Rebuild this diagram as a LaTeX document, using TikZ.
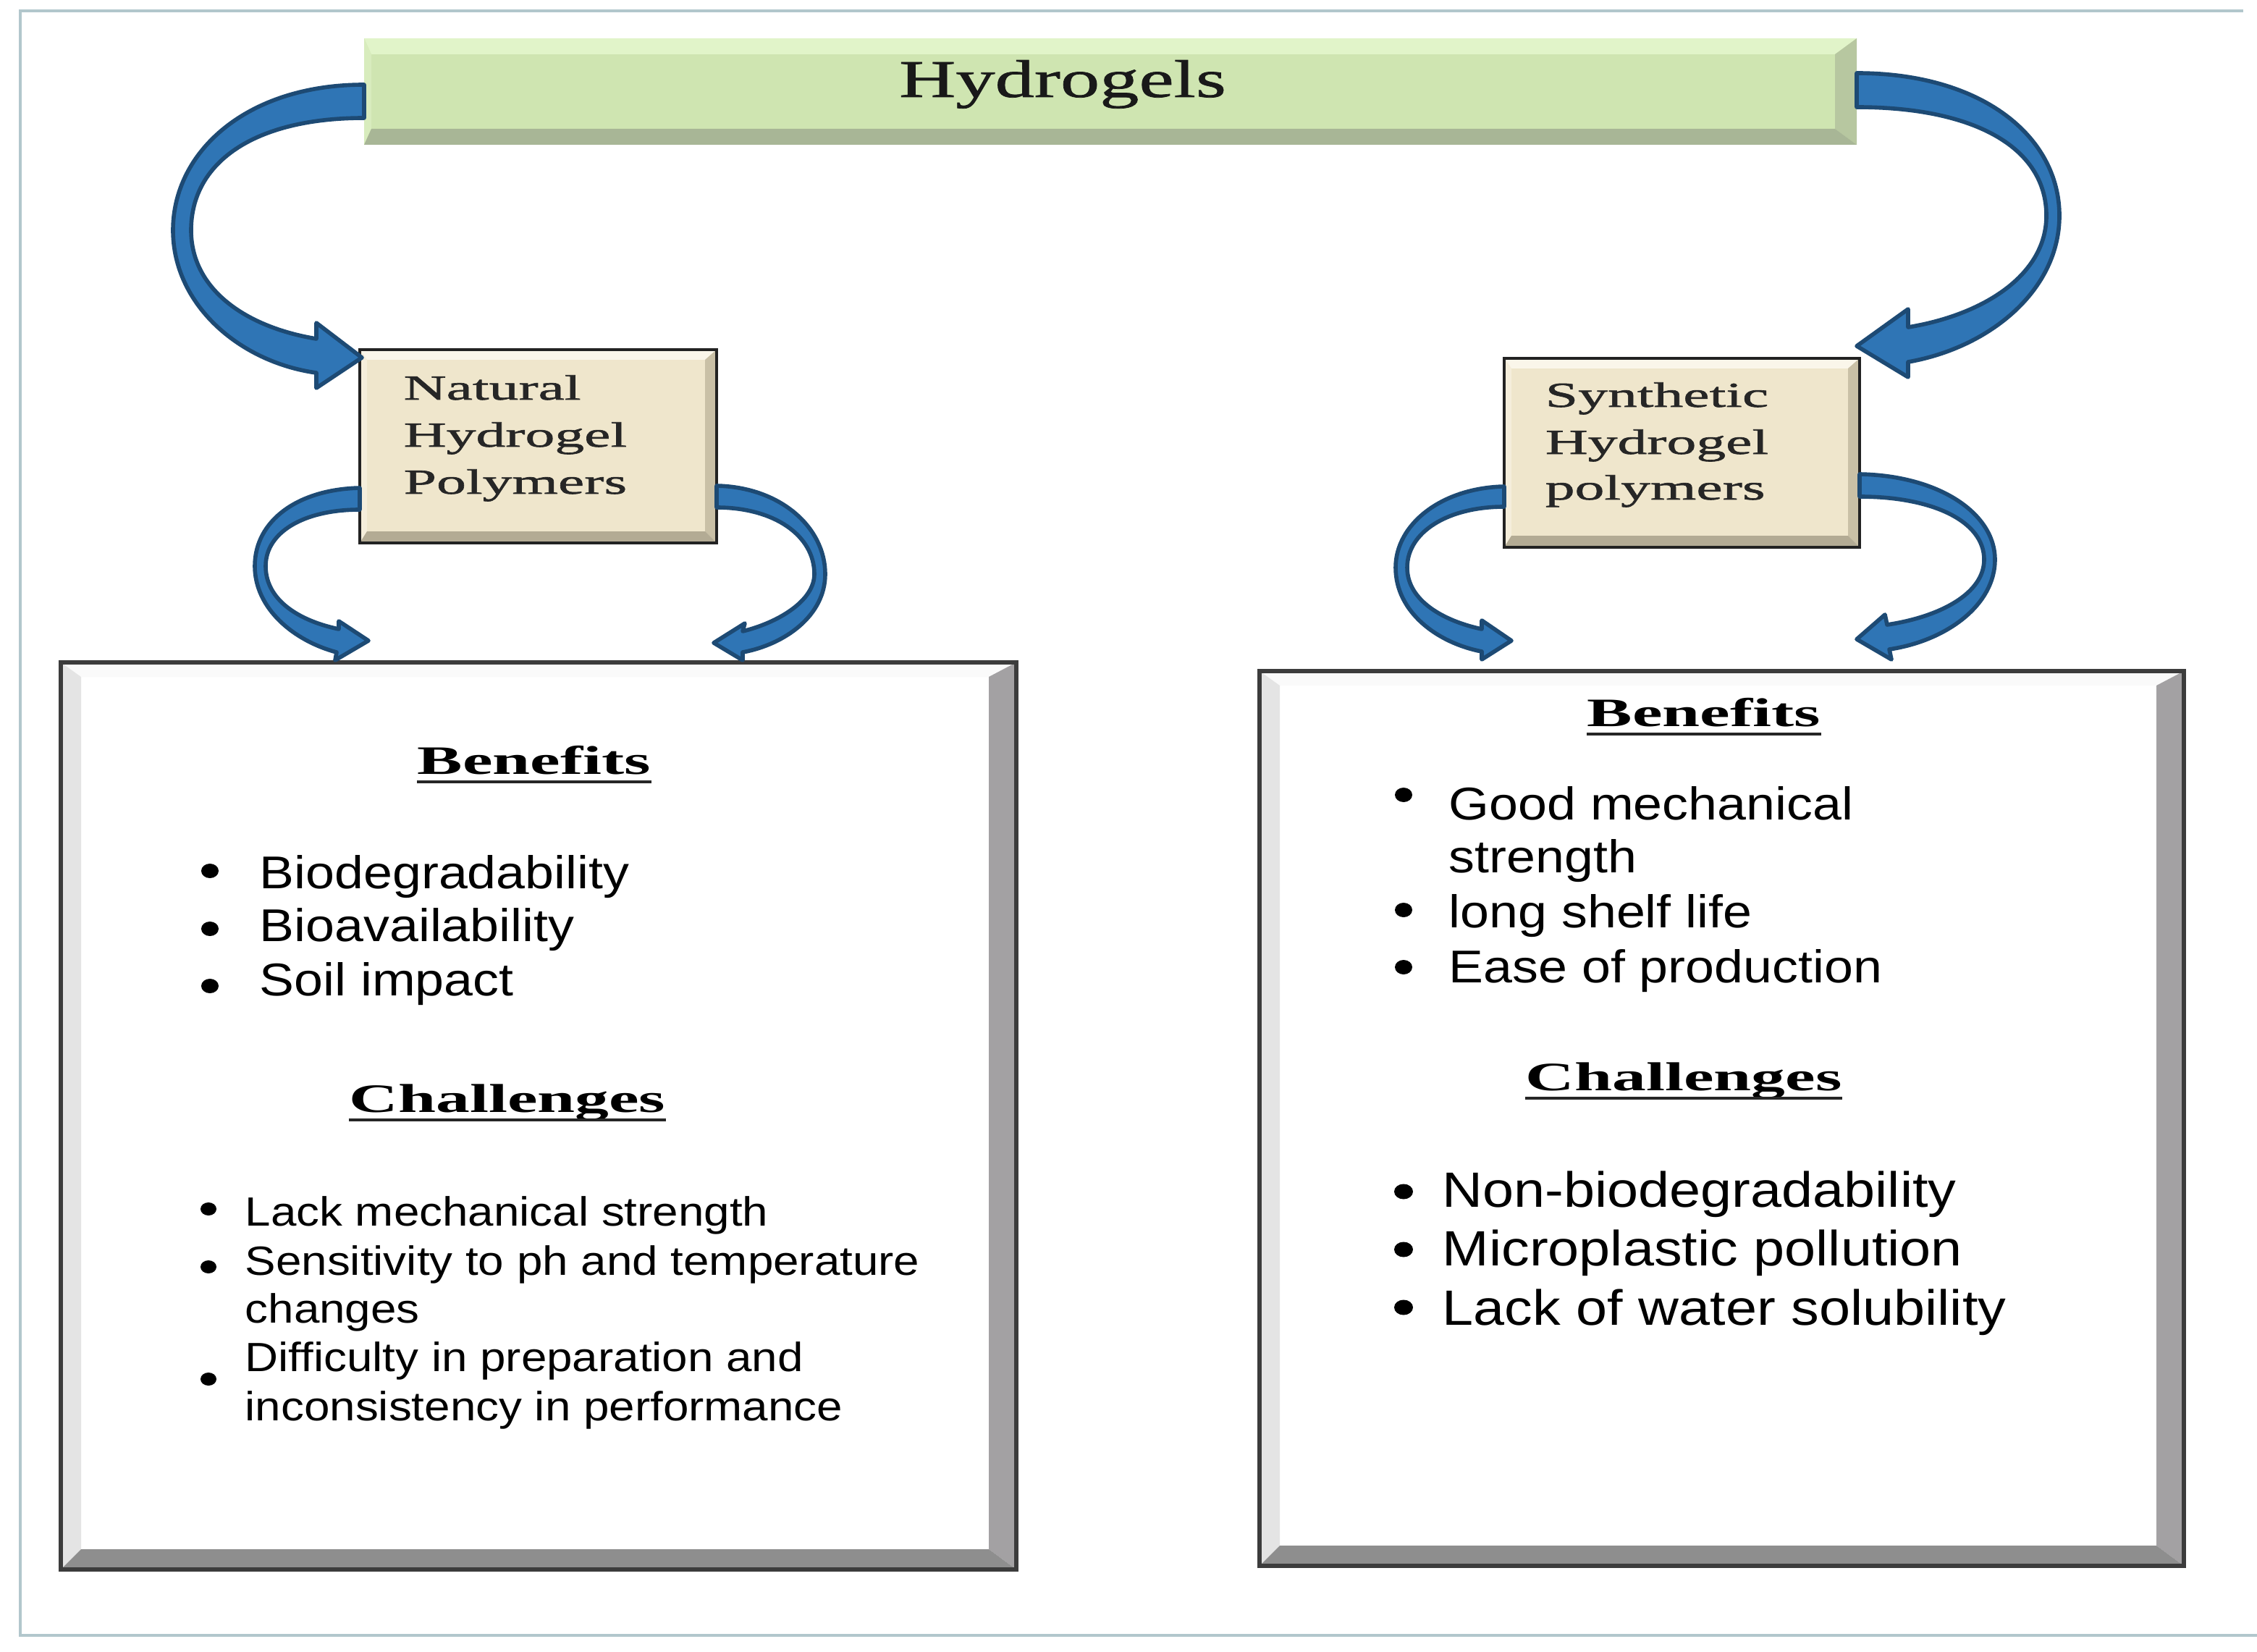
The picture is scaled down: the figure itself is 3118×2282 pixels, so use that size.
\documentclass[tikz,border=0pt]{standalone}
\usepackage{fontspec}
\setmainfont{Liberation Serif}
\newfontfamily\ttlfont[FakeStretch=1.48, FakeBold=1.0]{Liberation Serif}
\newfontfamily\lblfont[FakeStretch=1.68, FakeBold=1.3]{Liberation Serif}
\newfontfamily\hdgfont[FakeStretch=1.68]{Liberation Serif}
\newfontfamily\lstfont[FakeStretch=1.13]{Liberation Sans}
\usetikzlibrary{fit,calc}
\definecolor{frameline}{HTML}{B2C7CC}
\definecolor{gmain}{HTML}{CFE5B1}
\definecolor{gtop}{HTML}{E1F4C9}
\definecolor{gleft}{HTML}{D8ECBD}
\definecolor{gright}{HTML}{B7C7A0}
\definecolor{gbot}{HTML}{A8B696}
\definecolor{bmain}{HTML}{EFE6CC}
\definecolor{btop}{HTML}{FAF6EA}
\definecolor{bleft}{HTML}{F5EEDB}
\definecolor{bright}{HTML}{C9C0A6}
\definecolor{bbot}{HTML}{B3AB94}
\definecolor{wtop}{HTML}{FAFAFA}
\definecolor{wleft}{HTML}{E4E4E4}
\definecolor{wright}{HTML}{A3A1A3}
\definecolor{wbot}{HTML}{8E8E8E}
\definecolor{boxline}{HTML}{222222}
\definecolor{bigline}{HTML}{3C3C3C}
\definecolor{arrfill}{HTML}{2F75B5}
\definecolor{arrline}{HTML}{1D4A74}
\newcommand\bevelbox[8]{%
  \fill[bvmain] (#1,#2) rectangle (#3,#4);
  \fill[bvtop] (#1,#2) -- (#3,#2) -- ({#3-#7},{#2+#5}) -- ({#1+#6},{#2+#5}) -- cycle;
  \fill[bvleft] (#1,#2) -- ({#1+#6},{#2+#5}) -- ({#1+#6},{#4-#8}) -- (#1,#4) -- cycle;
  \fill[bvright] (#3,#2) -- ({#3-#7},{#2+#5}) -- ({#3-#7},{#4-#8}) -- (#3,#4) -- cycle;
  \fill[bvbottom] (#1,#4) -- ({#1+#6},{#4-#8}) -- ({#3-#7},{#4-#8}) -- (#3,#4) -- cycle;
}
\begin{document}
\begin{tikzpicture}[x=0.1mm, y=-0.1mm,
  greenbev/.style={bvmain/.style={fill=gmain}, bvtop/.style={fill=gtop}, bvleft/.style={fill=gleft}, bvright/.style={fill=gright}, bvbottom/.style={fill=gbot}},
  beigebev/.style={bvmain/.style={fill=bmain}, bvtop/.style={fill=btop}, bvleft/.style={fill=bleft}, bvright/.style={fill=bright}, bvbottom/.style={fill=bbot}},
  whitebev/.style={bvmain/.style={fill=white}, bvtop/.style={fill=wtop}, bvleft/.style={fill=wleft}, bvright/.style={fill=wright}, bvbottom/.style={fill=wbot}},
  boxfit/.style={inner sep=0, outer sep=0},
  ttl/.style={font=\ttlfont\fontsize{20.86}{24}\selectfont, inner sep=0, anchor=base, text=black!90},
  lbl/.style={font=\lblfont\fontsize{13.83}{16}\selectfont, inner sep=0, anchor=base west, text=black!85},
  hdg/.style={font=\hdgfont\bfseries\fontsize{15.85}{18}\selectfont, inner sep=0, anchor=base},
  uline/.style={line width=1.28pt, black!85},
  lstA/.style={font=\lstfont\fontsize{18.07}{21}\selectfont, inner sep=0, anchor=base west},
  lstB/.style={font=\lstfont\fontsize{19.49}{22}\selectfont, inner sep=0, anchor=base west},
  lstC/.style={font=\lstfont\fontsize{16.05}{19}\selectfont, inner sep=0, anchor=base west},
  bullet/.style={fill=black},
  blockarrow/.style={fill=arrfill, draw=arrline, line width=1.6pt, line join=round}
]
\useasboundingbox (0,0) rectangle (3118,2282);
\fill[white] (0,0) rectangle (3118,2282);
% outer frame
\draw[frameline, line width=1.4pt] (3099,15) -- (28,15) -- (28,2259) -- (3118,2259);

% top box
\begin{scope}[greenbev]
\bevelbox{503}{53}{2565}{200}{22}{10}{30}{22}
\end{scope}
\node[boxfit, fit={(503,53) (2565,200)}] (hyd) {};
\node[ttl] (title) at (1468,134) {Hydrogels};

% small boxes
\begin{scope}[beigebev]
\bevelbox{497}{483}{990}{750}{14}{10}{16}{16}
\bevelbox{2078}{495}{2569}{756}{14}{10}{16}{16}
\end{scope}
\node[boxfit, fit={(497,483) (990,750)}, draw=boxline, line width=1.3pt] (nat) {};
\node[boxfit, fit={(2078,495) (2569,756)}, draw=boxline, line width=1.3pt] (syn) {};
\node[lbl] (nat1) at (557,552) {Natural};
\node[lbl] (nat2) at (557,617) {Hydrogel};
\node[lbl] (nat3) at (557,682) {Polymers};
\node[lbl] (syn1) at (2134,562) {Synthetic};
\node[lbl] (syn2) at (2134,627) {Hydrogel};
\node[lbl] (syn3) at (2134,690) {polymers};

% big boxes
\begin{scope}[whitebev]
\bevelbox{84}{915}{1404}{2168}{20}{28}{38}{28}
\bevelbox{1740}{927}{3017}{2163}{20}{28}{38}{28}
\end{scope}
\node[boxfit, fit={(84,915) (1404,2168)}, draw=bigline, line width=1.5pt] (lbox) {};
\node[boxfit, fit={(1740,927) (3017,2163)}, draw=bigline, line width=1.5pt] (rbox) {};

% arrows from Hydrogels
\draw[blockarrow] (hyd.west |- 0,117) .. controls (340,117) and (239,210) .. (239,318)
  .. controls (239,420) and (330,500) .. (437,515)
  -- (437,536) -- (500,494) -- (437,446) -- (437,468)
  .. controls (340,452) and (264,400) .. (264,318)
  .. controls (264,225) and (350,163) .. (hyd.west |- 0,163) -- cycle;
\draw[blockarrow] (hyd.east |- 0,101) .. controls (2740,101) and (2845,190) .. (2845,298)
  .. controls (2845,400) and (2750,480) .. (2636,500)
  -- (2636,521) -- (2565,478) -- (2636,427) -- (2636,452)
  .. controls (2740,435) and (2827,380) .. (2827,298)
  .. controls (2827,205) and (2730,148) .. (hyd.east |- 0,148) -- cycle;
% arrows from Natural
\draw[blockarrow] (nat.west |- 0,674) .. controls (410,676) and (352,720) .. (352,782)
  .. controls (352,840) and (405,885) .. (465,901)
  -- (463,912) -- (509,885) -- (468,858) -- (468,869)
  .. controls (415,858) and (367,830) .. (367,782)
  .. controls (367,735) and (420,704) .. (nat.west |- 0,704) -- cycle;
\draw[blockarrow] (nat.east |- 0,671) .. controls (1080,673) and (1140,730) .. (1140,793)
  .. controls (1140,850) and (1085,890) .. (1026,901)
  -- (1026,912) -- (986,888) -- (1029,861) -- (1026,872)
  .. controls (1075,860) and (1125,830) .. (1125,793)
  .. controls (1125,740) and (1070,701) .. (nat.east |- 0,701) -- cycle;
% arrows from Synthetic
\draw[blockarrow] (syn.west |- 0,672) .. controls (1990,674) and (1928,725) .. (1928,784)
  .. controls (1928,845) and (1985,888) .. (2047,900)
  -- (2047,911) -- (2088,885) -- (2047,857) -- (2047,869)
  .. controls (1995,858) and (1944,830) .. (1944,784)
  .. controls (1944,735) and (2000,700) .. (syn.west |- 0,700) -- cycle;
\draw[blockarrow] (syn.east |- 0,655) .. controls (2680,657) and (2756,710) .. (2756,773)
  .. controls (2756,835) and (2690,885) .. (2610,897)
  -- (2613,911) -- (2565,883) -- (2604,849) -- (2607,863)
  .. controls (2680,852) and (2741,820) .. (2741,773)
  .. controls (2741,720) and (2670,686) .. (syn.east |- 0,686) -- cycle;

% left box content
\node[hdg] (lben) at (738,1069) {Benefits};
\draw[uline] ([yshift=-1.1mm]lben.base west) -- ([yshift=-1.1mm]lben.base east);
\fill[bullet] (290,1203) ellipse [x radius=12, y radius=10];
\fill[bullet] (290,1283) ellipse [x radius=12, y radius=10];
\fill[bullet] (290,1362) ellipse [x radius=12, y radius=10];
\node[lstA] (lt1) at (358,1227) {Biodegradability};
\node[lstA] (lt2) at (358,1300) {Bioavailability};
\node[lstA] (lt3) at (358,1375) {Soil impact};

\node[hdg] (lch) at (701,1536) {Challenges};
\draw[uline] ([yshift=-1.1mm]lch.base west) -- ([yshift=-1.1mm]lch.base east);
\fill[bullet] (288,1670) ellipse [x radius=11, y radius=9];
\fill[bullet] (288,1750) ellipse [x radius=11, y radius=9];
\fill[bullet] (288,1905) ellipse [x radius=11, y radius=9];
\node[lstC] (lu1) at (338,1693) {Lack mechanical strength};
\node[lstC] (lu2) at (338,1761) {Sensitivity to ph and temperature};
\node[lstC] (lu3) at (338,1827) {changes};
\node[lstC] (lu4) at (338,1894) {Difficulty in preparation and};
\node[lstC] (lu5) at (338,1962) {inconsistency in performance};

% right box content
\node[hdg] (rben) at (2354,1003) {Benefits};
\draw[uline] ([yshift=-1.1mm]rben.base west) -- ([yshift=-1.1mm]rben.base east);
\fill[bullet] (1939,1098) ellipse [x radius=12, y radius=10];
\fill[bullet] (1939,1257) ellipse [x radius=12, y radius=10];
\fill[bullet] (1939,1336) ellipse [x radius=12, y radius=10];
\node[lstA] (rt1) at (2001,1132) {Good mechanical};
\node[lstA] (rt2) at (2001,1205) {strength};
\node[lstA] (rt3) at (2001,1281) {long shelf life};
\node[lstA] (rt4) at (2001,1357) {Ease of production};

\node[hdg] (rch) at (2326,1506) {Challenges};
\draw[uline] ([yshift=-1.1mm]rch.base west) -- ([yshift=-1.1mm]rch.base east);
\fill[bullet] (1939,1646) ellipse [x radius=13, y radius=10.5];
\fill[bullet] (1939,1726) ellipse [x radius=13, y radius=10.5];
\fill[bullet] (1939,1806) ellipse [x radius=13, y radius=10.5];
\node[lstB] (ru1) at (1992,1667) {Non-biodegradability};
\node[lstB] (ru2) at (1992,1748) {Microplastic pollution};
\node[lstB] (ru3) at (1992,1830) {Lack of water solubility};
\end{tikzpicture}
\end{document}
